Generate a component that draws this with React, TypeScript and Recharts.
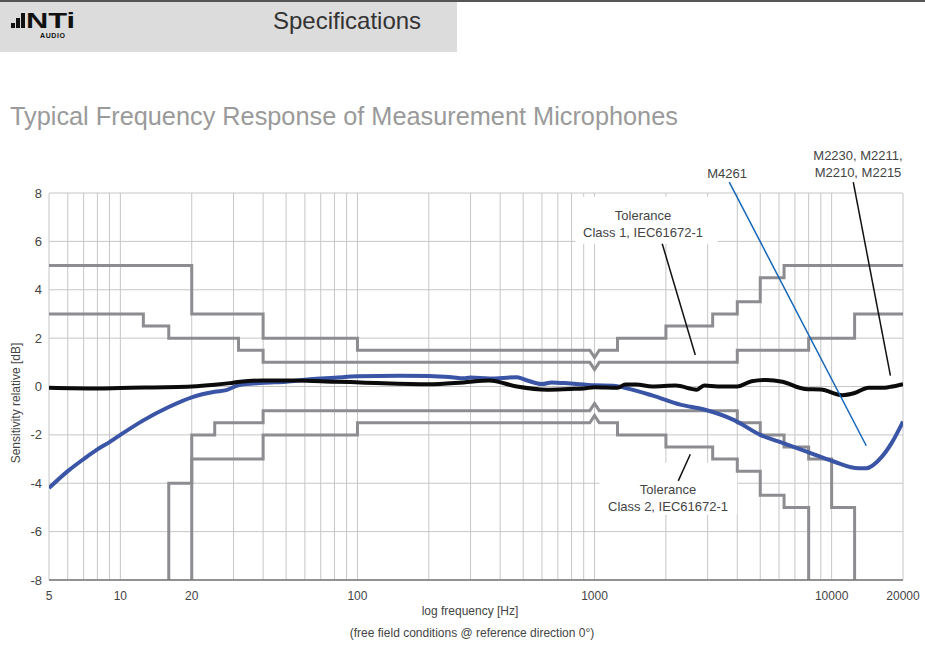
import {
  LineChart,
  Line,
  XAxis,
  YAxis,
  CartesianGrid,
  ReferenceArea,
  ReferenceLine,
} from "recharts";

// Typical frequency response of NTi measurement microphones,
// with the IEC61672-1 class 1 / class 2 tolerance limits.

const FONT = '"Liberation Sans", Arial, Helvetica, sans-serif';

const freqTicks = [
  5, 6, 7, 8, 9, 10, 20, 30, 40, 50, 60, 70, 80, 90, 100, 200, 300, 400, 500, 600, 700, 800, 900,
  1000, 2000, 3000, 4000, 5000, 6000, 7000, 8000, 9000, 10000, 20000,
];
const freqLabels = [5, 10, 20, 100, 1000, 10000, 20000];
const dbTicks = [-8, -6, -4, -2, 0, 2, 4, 6, 8];

// M4261
const m4261Freq = [
  5, 6, 7, 8, 9, 10, 12.5, 16, 20, 25, 28, 31.5, 40, 50, 63, 80, 100, 150, 200, 250, 280, 300, 360,
  470, 520, 600, 660, 790, 1000, 1200, 1400, 1750, 2300, 2900, 3900, 5000, 6000, 7900, 10200, 13000,
  14000, 16300, 18000, 20000,
];
const m4261Db = [
  -4.2, -3.5, -3.0, -2.6, -2.3, -2.0, -1.4, -0.85, -0.45, -0.22, -0.15, 0.05, 0.15, 0.2, 0.3, 0.36,
  0.42, 0.44, 0.43, 0.38, 0.34, 0.37, 0.33, 0.38, 0.25, 0.1, 0.17, 0.12, 0.05, 0.03, -0.1, -0.37,
  -0.75, -0.95, -1.4, -2.0, -2.28, -2.7, -3.1, -3.38, -3.38, -2.9, -2.3, -1.45,
];

// M2230, M2211, M2210, M2215
const m2230Freq = [
  5, 8, 10, 20, 25, 29, 32, 40, 55, 80, 103, 200, 280, 360, 470, 630, 790, 900, 1000, 1250, 1350,
  1500, 1750, 2200, 2700, 2900, 3300, 4000, 4600, 5300, 6200, 7700, 9000, 11100, 12500, 14300, 16700,
  18000, 20000,
];
const m2230Db = [
  -0.05, -0.08, -0.06, 0.0, 0.07, 0.14, 0.2, 0.25, 0.25, 0.2, 0.17, 0.09, 0.17, 0.25, 0.0, -0.13,
  -0.1, -0.08, -0.03, -0.05, 0.08, 0.08, 0.0, 0.04, -0.13, 0.04, 0.0, 0.0, 0.22, 0.27, 0.2, -0.1,
  -0.12, -0.36, -0.27, -0.05, -0.05, 0.0, 0.1,
];

// tolerance limits (step edges repeated, notch at 1 kHz)
const class2UpperFreq = [5, 20, 20, 40, 40, 100, 100, 955, 1000, 1047, 1250, 1250, 2000, 2000, 3150, 3150, 4000, 4000, 5000, 5000, 6300, 6300, 20000];
const class2UpperDb = [5, 5, 3, 3, 2, 2, 1.5, 1.5, 1.2, 1.5, 1.5, 2, 2, 2.5, 2.5, 3, 3, 3.5, 3.5, 4.5, 4.5, 5, 5];

const class1UpperFreq = [5, 12.5, 12.5, 16, 16, 31.5, 31.5, 40, 40, 955, 1000, 1047, 4000, 4000, 8000, 8000, 12500, 12500, 20000];
const class1UpperDb = [3, 3, 2.5, 2.5, 2, 2, 1.5, 1.5, 1, 1, 0.7, 1, 1, 1.5, 1.5, 2, 2, 3, 3];

const class1LowerFreq = [20, 20, 25, 25, 40, 40, 955, 1000, 1047, 4000, 4000, 5000, 5000, 6300, 6300, 8000, 8000, 10000, 10000, 12500, 12500];
const class1LowerDb = [-8, -2, -2, -1.5, -1.5, -1, -1, -0.7, -1, -1, -1.5, -1.5, -2, -2, -2.5, -2.5, -3, -3, -5, -5, -8];

const class2LowerFreq = [16, 16, 20, 20, 40, 40, 100, 100, 955, 1000, 1047, 1250, 1250, 2000, 2000, 3150, 3150, 4000, 4000, 5000, 5000, 6300, 6300, 8000, 8000];
const class2LowerDb = [-8, -4, -4, -3, -3, -2, -2, -1.5, -1.5, -1.2, -1.5, -1.5, -2, -2, -2.5, -2.5, -3, -3, -3.5, -3.5, -4.5, -4.5, -5, -5, -8];

const zip = (f: number[], v: number[]) => f.map((x, i) => ({ f: x, v: v[i] }));

const tolGray = "#8c8c91";

function FreqTick({ x, y, payload }: any) {
  if (!freqLabels.includes(payload.value)) return null;
  return (
    <text x={x} y={y} dy="0.71em" textAnchor="middle" fill="#444" fontSize={12} fontFamily={FONT}>
      {payload.value}
    </text>
  );
}

const note: React.CSSProperties = {
  position: "absolute",
  fontFamily: FONT,
  fontSize: 13,
  color: "#444",
  textAlign: "center",
  lineHeight: "17px",
  whiteSpace: "nowrap",
  transform: "translateX(-50%)",
};

export default function App() {
  return (
    <div style={{ position: "relative", width: 925, height: 646, background: "#fff", overflow: "hidden" }}>
      <style>{"body{margin:0}"}</style>

      {/* header */}
      <div style={{ position: "absolute", left: 0, top: 0, width: 925, height: 2, background: "#555" }} />
      <div style={{ position: "absolute", left: 0, top: 2, width: 457, height: 50, background: "#dcdcdc" }} />
      <div style={{ position: "absolute", left: 11, top: 23, width: 4, height: 5, background: "#111" }} />
      <div style={{ position: "absolute", left: 16, top: 18, width: 4, height: 10, background: "#111" }} />
      <div style={{ position: "absolute", left: 21, top: 13, width: 4, height: 15, background: "#111" }} />
      <div
        style={{
          position: "absolute",
          left: 26,
          top: 10,
          fontFamily: FONT,
          fontWeight: 700,
          fontSize: 22,
          lineHeight: "22px",
          color: "#111",
          transform: "scaleX(1.4)",
          transformOrigin: "left top",
        }}
      >
        NTi
      </div>
      <div style={{ position: "absolute", left: 40, top: 32, fontFamily: FONT, fontWeight: 700, fontSize: 7, lineHeight: "7px", letterSpacing: 0.6, color: "#111" }}>
        AUDIO
      </div>
      <div style={{ position: "absolute", left: 273, top: 7, fontFamily: FONT, fontSize: 24, color: "#333" }}>
        Specifications
      </div>

      <div style={{ position: "absolute", left: 10, top: 102, fontFamily: FONT, fontSize: 25.3, color: "#9a9a9a" }}>
        Typical Frequency Response of Measurement Microphones
      </div>

      <LineChart
        width={925}
        height={646}
        margin={{ top: 193, right: 22, left: 9, bottom: 36 }}
        style={{ position: "absolute", left: 0, top: 0 }}
      >
        <CartesianGrid stroke="#c6c6c6" strokeWidth={1} />
        <XAxis
          dataKey="f"
          type="number"
          scale="log"
          domain={[5, 20000]}
          ticks={freqTicks}
          interval={0}
          height={30}
          tick={<FreqTick />}
          tickLine={false}
          tickSize={0}
          tickMargin={11}
          axisLine={{ stroke: "#777", strokeWidth: 1.5 }}
          allowDataOverflow
        />
        <YAxis
          type="number"
          domain={[-8, 8]}
          ticks={dbTicks}
          width={40}
          tickLine={false}
          tickSize={0}
          tickMargin={7}
          axisLine={false}
          tick={{ fill: "#444", fontSize: 13, fontFamily: FONT }}
          allowDataOverflow
        />

        {/* white label boxes that hide the grid */}
        <ReferenceArea x1={830} x2={3300} y1={5.9} y2={7.85} fill="#fff" fillOpacity={1} stroke="none" ifOverflow="visible" />
        <ReferenceArea x1={1050} x2={4000} y1={-3.15} y2={-5.3} fill="#fff" fillOpacity={1} stroke="none" ifOverflow="visible" />

        <Line data={zip(class2UpperFreq, class2UpperDb)} dataKey="v" stroke={tolGray} strokeWidth={3} dot={false} isAnimationActive={false} />
        <Line data={zip(class1UpperFreq, class1UpperDb)} dataKey="v" stroke={tolGray} strokeWidth={3} dot={false} isAnimationActive={false} />
        <Line data={zip(class1LowerFreq, class1LowerDb)} dataKey="v" stroke={tolGray} strokeWidth={3} dot={false} isAnimationActive={false} />
        <Line data={zip(class2LowerFreq, class2LowerDb)} dataKey="v" stroke={tolGray} strokeWidth={3} dot={false} isAnimationActive={false} />

        <Line data={zip(m4261Freq, m4261Db)} type="monotone" dataKey="v" stroke="#3a54a6" strokeWidth={4} dot={false} isAnimationActive={false} />
        <Line data={zip(m2230Freq, m2230Db)} type="monotone" dataKey="v" stroke="#0b0b0b" strokeWidth={4} dot={false} isAnimationActive={false} />

        {/* leader lines */}
        <ReferenceLine segment={[{ x: 1930, y: 5.9 }, { x: 2660, y: 1.3 }]} stroke="#111" strokeWidth={1.5} ifOverflow="visible" />
        <ReferenceLine segment={[{ x: 2535, y: -2.8 }, { x: 2255, y: -3.9 }]} stroke="#111" strokeWidth={1.5} ifOverflow="visible" />
        <ReferenceLine segment={[{ x: 3700, y: 8.45 }, { x: 14000, y: -2.45 }]} stroke="#1566b8" strokeWidth={1.5} ifOverflow="visible" />
        <ReferenceLine segment={[{ x: 12340, y: 8.45 }, { x: 17700, y: 0.45 }]} stroke="#111" strokeWidth={1.5} ifOverflow="visible" />
      </LineChart>

      {/* annotations */}
      <div style={{ ...note, left: 643, top: 207 }}>
        Tolerance
        <br />
        Class 1, IEC61672-1
      </div>
      <div style={{ ...note, left: 668, top: 481 }}>
        Tolerance
        <br />
        Class 2, IEC61672-1
      </div>
      <div style={{ ...note, left: 727, top: 165 }}>M4261</div>
      <div style={{ ...note, left: 858, top: 147 }}>
        M2230, M2211,
        <br />
        M2210, M2215
      </div>

      {/* axis titles */}
      <div
        style={{
          position: "absolute",
          left: 16,
          top: 403,
          transform: "translate(-50%, -50%) rotate(-90deg)",
          fontFamily: FONT,
          fontSize: 12,
          color: "#444",
          whiteSpace: "nowrap",
        }}
      >
        Sensitivity relative [dB]
      </div>
      <div style={{ ...note, left: 470, top: 603, fontSize: 12 }}>log frequency [Hz]</div>
      <div style={{ ...note, left: 472, top: 625, fontSize: 12 }}>
        (free field conditions @ reference direction 0°)
      </div>
    </div>
  );
}
